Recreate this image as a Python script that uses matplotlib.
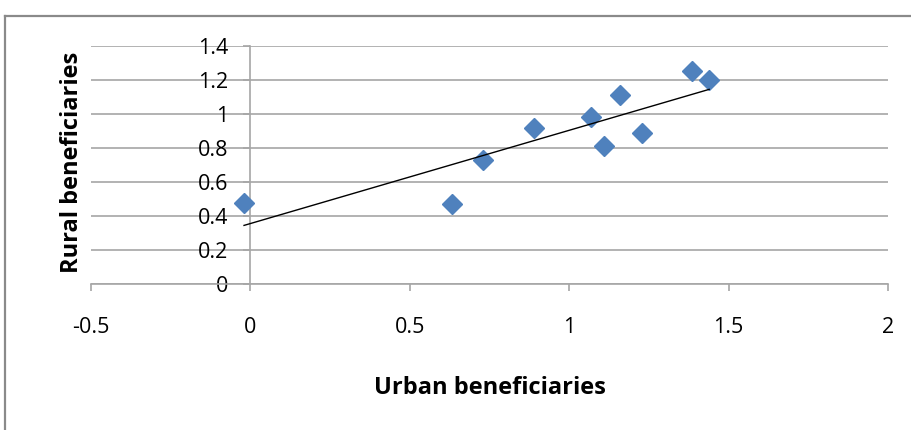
import numpy as np
import matplotlib.pyplot as plt
from matplotlib.lines import Line2D

urban = [-0.02, 0.633, 0.73, 0.89, 1.069, 1.11, 1.16, 1.229, 1.386, 1.439]
rural = [0.476, 0.47, 0.729, 0.918, 0.982, 0.81, 1.11, 0.888, 1.253, 1.2]

x_ticks = [-0.5, 0, 0.5, 1, 1.5, 2]
x_labels = ["-0.5", "0", "0.5", "1", "1.5", "2"]
y_ticks = [0, 0.2, 0.4, 0.6, 0.8, 1, 1.2, 1.4]
y_labels = ["0", "0.2", "0.4", "0.6", "0.8", "1", "1.2", "1.4"]

plt.rcParams['font.family'] = ['Open Sans', 'DejaVu Sans']

fig = plt.figure(figsize=(9.11, 4.30), dpi=100)
ax = fig.add_axes([91 / 911, 146 / 430, 797 / 911, 238 / 430])

# chart area border (top and left edges)
border = dict(color="#8a8a8a", lw=1.6, transform=fig.transFigure)
fig.add_artist(Line2D([5 / 911, 1], [1 - 16 / 430, 1 - 16 / 430], **border))
fig.add_artist(Line2D([5 / 911, 5 / 911], [0, 1 - 16 / 430], **border))

ax.plot(urban, rural, linestyle="none", marker="D", markersize=10,
        color="#4f81bd", zorder=3)

# least squares trendline over the data range
slope, intercept = np.polyfit(urban, rural, 1)
xs = np.array([min(urban), max(urban)])
ax.plot(xs, slope * xs + intercept, color="black", lw=1.0, zorder=4)

ax.set_xlim(-0.5, 2)
ax.set_ylim(0, 1.4)
ax.set_xticks(x_ticks)
ax.set_xticklabels(x_labels)
ax.set_yticks(y_ticks)
ax.set_yticklabels(y_labels)

ax.grid(axis="y", color="#a6a6a6", lw=1.2)
ax.set_axisbelow(True)

for side in ["top", "right"]:
    ax.spines[side].set_visible(False)
ax.spines["left"].set_position(("data", 0))
for side in ["left", "bottom"]:
    ax.spines[side].set_color("#a6a6a6")
    ax.spines[side].set_linewidth(1.2)

ax.tick_params(axis="x", length=5, width=1.2, color="#a6a6a6", pad=19,
               labelsize=15.5, labelcolor="black")
ax.tick_params(axis="y", length=5, width=1.2, color="#a6a6a6", pad=11,
               labelsize=15.5, labelcolor="black")

ax.set_xlabel("Urban beneficiaries", fontsize=17, fontweight="bold", va="center")
ax.xaxis.set_label_coords(0.5, -0.437)
ax.set_ylabel("Rural beneficiaries", fontsize=17, fontweight="bold", va="center")
ax.yaxis.set_label_coords(-0.024, 0.513)

fig.savefig("out.png", dpi=100)
